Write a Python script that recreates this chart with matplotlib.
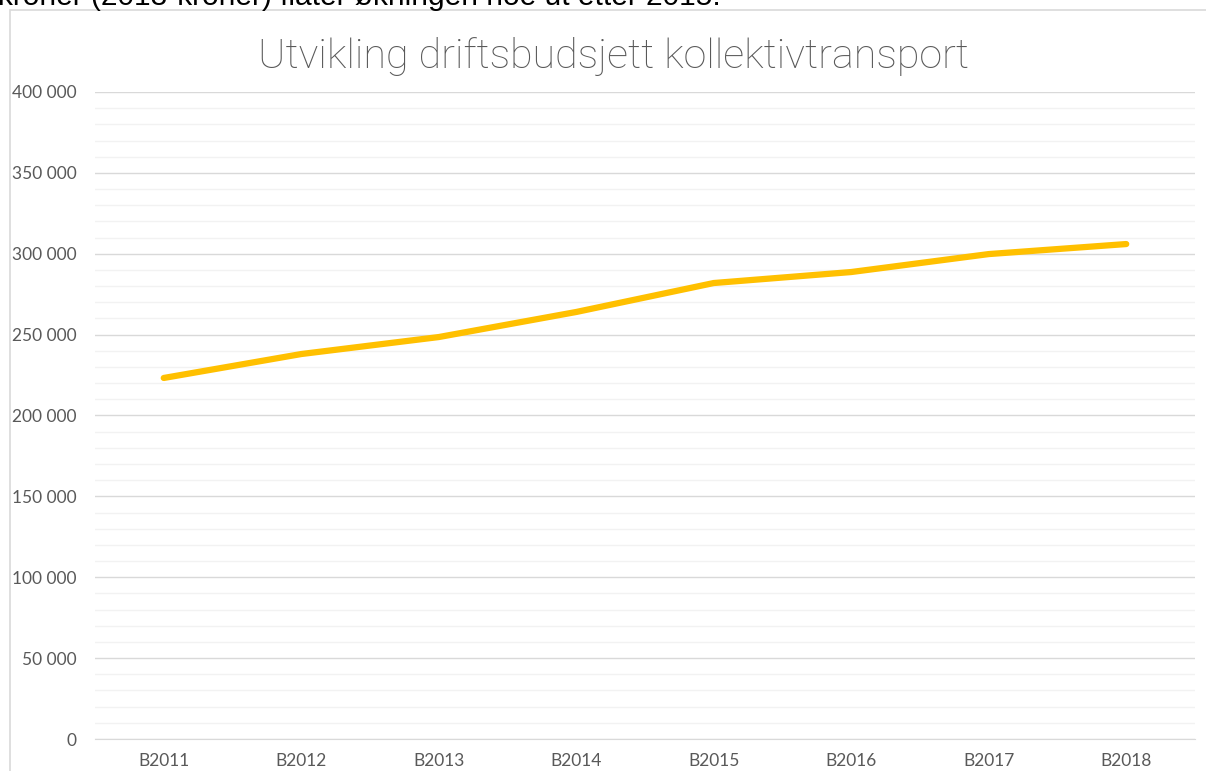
import matplotlib.pyplot as plt
from matplotlib.patches import Rectangle
from matplotlib.ticker import MultipleLocator, FuncFormatter

# Driftsbudsjett per år (lest av figuren)
aar = ['B2011', 'B2012', 'B2013', 'B2014', 'B2015', 'B2016', 'B2017', 'B2018']
budsjett = [223200, 238000, 248500, 264000, 281900, 288700, 299800, 306000]

tittel = 'Utvikling driftsbudsjett kollektivtransport'
tekst_over = 'kroner (2013-kroner) flater økningen noe ut etter 2015.'

fig = plt.figure(figsize=(12.06, 7.71), dpi=100)
W, H = 1206, 771

# Ramme rundt diagrammet
fig.patches.append(Rectangle((10 / W, -0.1), 1.2, 1 - 10 / H + 0.1,
                             transform=fig.transFigure, fill=False,
                             edgecolor='#d9d9d9', linewidth=1.2))

# Avkuttet tekst fra dokumentet over diagrammet
fig.text(-2 / W, 1 - 5 / H, tekst_over, fontsize=21.5, family='Liberation Sans',
         color='black', ha='left', va='baseline')

ax = fig.add_axes([95 / W, 1 - 739 / H, 1100 / W, (739 - 92) / H])
x = range(len(aar))
ax.plot(x, budsjett, color='#FFC000', linewidth=4.5, solid_capstyle='round',
        solid_joinstyle='round', zorder=3)

ax.set_xlim(-0.5, len(aar) - 0.5)
ax.set_ylim(0, 400000)
ax.yaxis.set_major_locator(MultipleLocator(50000))
ax.yaxis.set_minor_locator(MultipleLocator(10000))
ax.yaxis.set_major_formatter(FuncFormatter(lambda v, p: f'{int(v):,}'.replace(',', ' ')))
ax.set_xticks(list(x))
ax.set_xticklabels(aar)

ax.grid(axis='y', which='major', color='#d9d9d9', linewidth=1)
ax.grid(axis='y', which='minor', color='#f2f2f2', linewidth=1)
ax.set_axisbelow(True)
for s in ['left', 'right', 'top']:
    ax.spines[s].set_visible(False)
ax.spines['bottom'].set_color('#d9d9d9')

ax.tick_params(axis='both', which='both', length=0, colors='#595959', labelsize=12.5)
ax.tick_params(axis='y', pad=13)
ax.tick_params(axis='x', pad=10)
for lab in ax.get_xticklabels() + ax.get_yticklabels():
    lab.set_family('Lato')

fig.text(614 / W, 1 - 56 / H, tittel, fontsize=29.7, family='Roboto', weight='light',
         color='#595959', ha='center', va='center')

fig.savefig('out.png', dpi=100)
